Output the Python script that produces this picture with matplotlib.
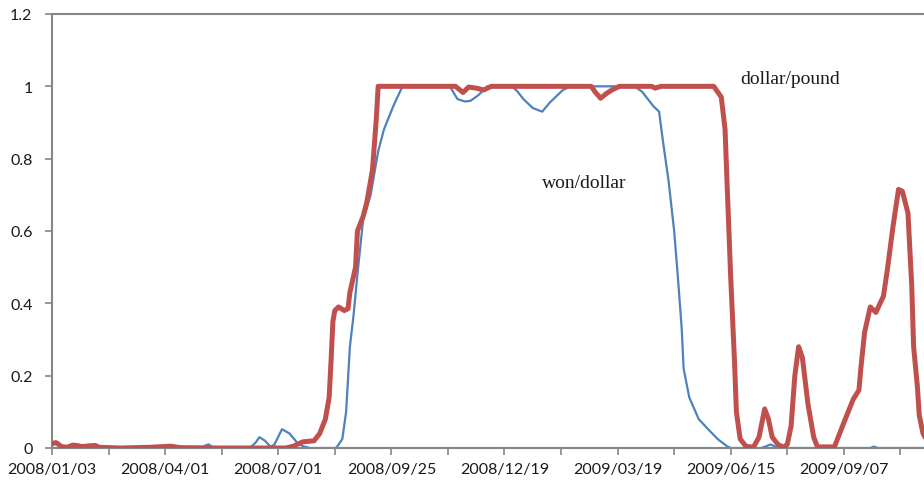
import matplotlib
matplotlib.use("Agg")
import matplotlib.pyplot as plt

# trading-day index of each tick label (one label every 60 trading days)
tick_labels = ["2008/01/03", "2008/04/01", "2008/07/01", "2008/09/25",
               "2008/12/19", "2009/03/19", "2009/06/15", "2009/09/07"]
label_step = 60
minor_step = 30

# dollar/pound (red, thick)
pound_day = [0, 2, 3, 5, 8, 11, 13, 16, 20, 23, 25, 36, 52, 63, 68, 89, 110, 124,
             128, 133, 139, 142, 145, 147, 148, 149, 150, 152, 155, 157, 158, 161,
             162, 165, 167, 170, 172, 173, 214, 218, 221, 225, 229, 233, 286, 288,
             291, 294, 297, 301, 318, 320, 323, 351, 355, 357, 358, 360, 362, 363,
             365, 368, 372, 375, 378, 380, 382, 385, 388, 390, 392, 394, 396, 398,
             401, 404, 406, 415, 417, 420, 425, 428, 429, 431, 434, 437, 441, 443,
             446, 449, 451, 454, 456, 457, 459, 460, 462, 465]
pound_val = [0.012, 0.015, 0.012, 0.004, 0.002, 0.008, 0.007, 0.004, 0.006, 0.007,
             0.002, 0.0, 0.002, 0.005, 0.001, 0.0, 0.0, 0.0,
             0.005, 0.017, 0.02, 0.04, 0.08, 0.14, 0.24, 0.35, 0.38, 0.39, 0.38,
             0.385, 0.43, 0.50, 0.60, 0.64, 0.68, 0.77, 0.91, 1.0, 1.0, 0.983,
             0.998, 0.995, 0.99, 1.0, 1.0, 0.985, 0.967, 0.98, 0.99, 1.0, 1.0,
             0.995, 1.0, 1.0, 0.97, 0.88, 0.74, 0.47, 0.24, 0.10, 0.025, 0.005,
             0.002, 0.03, 0.108, 0.08, 0.03, 0.01, 0.002, 0.01, 0.06, 0.2, 0.28,
             0.25, 0.12, 0.03, 0.003, 0.003, 0.03, 0.07, 0.135, 0.16, 0.22, 0.32,
             0.39, 0.375, 0.42, 0.49, 0.61, 0.715, 0.71, 0.65, 0.45, 0.28, 0.17,
             0.09, 0.04, 0.01]

# won/dollar (blue, thin)
won_day = [0, 79, 81, 83, 85, 88, 105, 108, 110, 113, 116, 118, 122, 126, 130, 133,
           137, 150, 151, 154, 156, 157, 158, 160, 162, 165, 169, 173, 176, 181,
           185, 186, 211, 215, 219, 222, 226, 231, 244, 247, 250, 255, 260, 264,
           271, 275, 309, 313, 316, 319, 322, 324, 327, 330, 332, 334, 335, 338,
           343, 348, 353, 358, 360, 376, 379, 381, 384, 387, 434, 436, 438, 463]
won_val = [0.0, 0.0, 0.006, 0.01, 0.003, 0.0, 0.0, 0.015, 0.03, 0.02, 0.003, 0.01,
           0.052, 0.04, 0.015, 0.005, 0.0, 0.0, 0.002, 0.025, 0.10, 0.19, 0.28,
           0.37, 0.48, 0.63, 0.70, 0.82, 0.88, 0.945, 0.99, 1.0, 1.0, 0.965,
           0.958, 0.96, 0.975, 1.0, 1.0, 0.985, 0.965, 0.94, 0.93, 0.955, 0.99,
           1.0, 1.0, 0.985, 0.965, 0.945, 0.93, 0.85, 0.74, 0.60, 0.47, 0.33,
           0.22, 0.14, 0.08, 0.052, 0.025, 0.005, 0.0, 0.0, 0.005, 0.01, 0.003,
           0.0, 0.0, 0.004, 0.0, 0.0]

RED = "#C0504D"
BLUE = "#4F81BD"
AXIS = "#868686"
TXT = "#1a1a1a"

fig = plt.figure(figsize=(9.24, 4.89), dpi=100)
ax = fig.add_axes([52 / 924, 40 / 489, 1 - 52 / 924 + 0.001, 434 / 489])

ax.plot(won_day, won_val, color=BLUE, lw=1.6, solid_joinstyle="round",
        solid_capstyle="round", zorder=2)
ax.plot(pound_day, pound_val, color=RED, lw=3.6, solid_joinstyle="round",
        solid_capstyle="round", zorder=3)

ax.set_xlim(0, 463)
ax.set_ylim(0, 1.2)

n_minor = 16
xt = [i * minor_step for i in range(n_minor)]
xl = []
for i in range(n_minor):
    if i % 2 == 0 and i // 2 < len(tick_labels):
        xl.append(tick_labels[i // 2])
    else:
        xl.append("")
ax.set_xticks(xt)
ax.set_xticklabels(xl)
yt = [0, 0.2, 0.4, 0.6, 0.8, 1.0, 1.2]
ax.set_yticks(yt)
ax.set_yticklabels(["0", "0.2", "0.4", "0.6", "0.8", "1", "1.2"])

for lab in ax.get_xticklabels() + ax.get_yticklabels():
    lab.set_fontfamily("Lato")
    lab.set_fontsize(11.5)
    lab.set_color(TXT)

ax.tick_params(axis="x", direction="out", length=5, width=1.2, color=AXIS, pad=5)
ax.tick_params(axis="y", direction="out", length=5, width=1.2, color=AXIS, pad=9)

for s in ["left", "bottom", "top"]:
    ax.spines[s].set_color(AXIS)
    ax.spines[s].set_linewidth(1.5)
ax.spines["right"].set_visible(False)

ax.text((584 - 52) * 60 / 113, (449 - 183) / 362, "won/dollar", fontsize=14,
        family="Liberation Serif", color=TXT, ha="center", va="center")
ax.text((789 - 52) * 60 / 113, (449 - 79) / 362, "dollar/pound", fontsize=14,
        family="Liberation Serif", color=TXT, ha="center", va="center")

fig.savefig("out.png", dpi=100)
